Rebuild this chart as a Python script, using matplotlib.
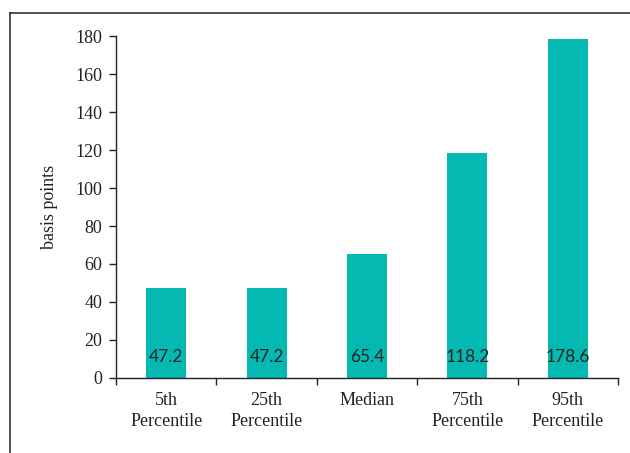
import matplotlib
matplotlib.use("Agg")
import matplotlib.pyplot as plt
from matplotlib.lines import Line2D

categories = ["5th\nPercentile", "25th\nPercentile", "Median", "75th\nPercentile", "95th\nPercentile"]
values = [47.2, 47.2, 65.4, 118.2, 178.6]
value_labels = ["47.2", "47.2", "65.4", "118.2", "178.6"]
y_ticks = [0, 20, 40, 60, 80, 100, 120, 140, 160, 180]

bar_color = "#04B9B1"
axis_color = "#222222"
serif = ["Liberation Serif", "DejaVu Serif"]
sans = ["Lato", "DejaVu Sans"]

fig = plt.figure(figsize=(6.3, 4.53), dpi=100)
ax = fig.add_axes([116 / 630, 1 - 378 / 453, 502 / 630, 342 / 453])

x = list(range(len(categories)))
ax.bar(x, values, width=0.4, color=bar_color, zorder=2)
for xi, lab in zip(x, value_labels):
    ax.text(xi, 11, lab, ha="center", va="center", fontsize=12.5,
            family=sans, color="#222222", zorder=3)

ax.set_xlim(-0.5, len(categories) - 0.5)
ax.set_ylim(0, 180)
ax.set_yticks(y_ticks)
ax.set_yticklabels([str(t) for t in y_ticks], family=serif, fontsize=13, color="#222222")

# category boundary ticks below the axis, labels centred under each bar
ax.set_xticks([i - 0.5 for i in range(len(categories) + 1)])
ax.set_xticklabels([])
for xi, cat in zip(x, categories):
    ax.text(xi, -7.5, cat, ha="center", va="top", fontsize=13, family=serif,
            color="#222222", linespacing=1.3, transform=ax.transData)

ax.tick_params(axis="x", direction="out", length=5, width=1, color=axis_color)
ax.tick_params(axis="y", direction="out", length=5, width=1, color=axis_color, pad=5)

for side in ["top", "right"]:
    ax.spines[side].set_visible(False)
for side in ["left", "bottom"]:
    ax.spines[side].set_color(axis_color)
    ax.spines[side].set_linewidth(1)

ax.set_ylabel("basis points", family=serif, fontsize=13, color="#222222", labelpad=12)

# outer frame around the chart area
fx0, fy0 = 9.5 / 630, 1 - 12.5 / 453
fig.add_artist(Line2D([fx0, 1.0], [fy0, fy0], color="#333333", lw=1.2, transform=fig.transFigure))
fig.add_artist(Line2D([fx0, fx0], [0.0, fy0], color="#333333", lw=1.2, transform=fig.transFigure))

fig.savefig("out.png", dpi=100)
